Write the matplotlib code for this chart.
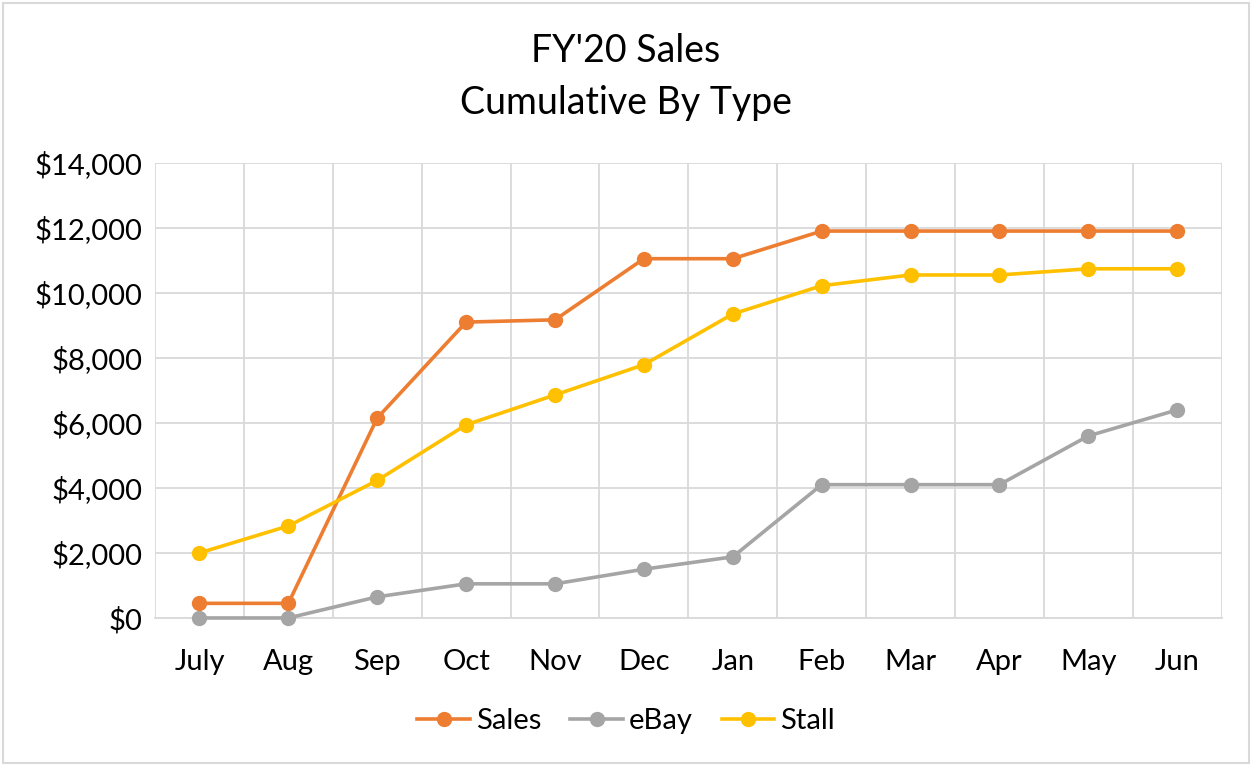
import matplotlib
matplotlib.use("Agg")
import matplotlib.pyplot as plt
from matplotlib.patches import Rectangle
from matplotlib.ticker import FuncFormatter

plt.rcParams["font.family"] = ["Lato", "DejaVu Sans"]

# ── 데이터 ─────────────────────────────────────────────
months = ["July", "Aug", "Sep", "Oct", "Nov", "Dec", "Jan", "Feb", "Mar", "Apr", "May", "Jun"]
sales = [450, 450, 6150, 9100, 9170, 11050, 11050, 11900, 11900, 11900, 11900, 11900]
ebay = [0, 0, 650, 1050, 1050, 1500, 1880, 4100, 4100, 4100, 5600, 6400]
stall = [2000, 2830, 4230, 5940, 6860, 7790, 9350, 10220, 10550, 10550, 10740, 10740]

series = [
    ("Sales", sales, "#ED7D31"),
    ("eBay", ebay, "#A5A5A5"),
    ("Stall", stall, "#FFC000"),
]

fig = plt.figure(figsize=(12.52, 7.65), dpi=100)
ax = fig.add_axes([0.1238, 0.1922, 0.852, 0.595])

x = list(range(len(months)))
for name, vals, color in series:
    ax.plot(x, vals, color=color, linewidth=2.6, marker="o", markersize=10,
            label=name, zorder=3, clip_on=False)

grid_c = "#D9D9D9"
ax.set_xlim(-0.5, len(months) - 0.5)
ax.set_ylim(0, 14000)
ax.set_yticks(range(0, 14001, 2000))
ax.yaxis.set_major_formatter(FuncFormatter(lambda v, p: f"${v:,.0f}"))
ax.set_xticks(x)
ax.set_xticklabels(months)
ax.set_xticks([i - 0.5 for i in range(len(months) + 1)], minor=True)
ax.grid(axis="y", which="major", color=grid_c, linewidth=1.3)
ax.grid(axis="x", which="minor", color=grid_c, linewidth=1.3)
ax.tick_params(axis="both", which="both", length=0, labelsize=21, colors="#000000")
ax.tick_params(axis="x", pad=22)
ax.tick_params(axis="y", pad=9)
for s in ax.spines.values():
    s.set_visible(False)
ax.spines["bottom"].set_visible(True)
ax.spines["bottom"].set_color(grid_c)
ax.spines["bottom"].set_linewidth(1.3)

fig.text(0.5, 0.933, "FY'20 Sales", ha="center", va="center", fontsize=27)
fig.text(0.5, 0.865, "Cumulative By Type", ha="center", va="center", fontsize=27)

fig.legend(loc="center", bbox_to_anchor=(0.5, 0.057), ncol=3, frameon=False,
           fontsize=21, handlelength=1.8, handletextpad=0.2, columnspacing=1.0)

fig.patches.append(Rectangle((0.002, 0.002), 0.996, 0.994, transform=fig.transFigure,
                             fill=False, edgecolor="#D9D9D9", linewidth=1.5))

fig.savefig("out.png", dpi=100)
